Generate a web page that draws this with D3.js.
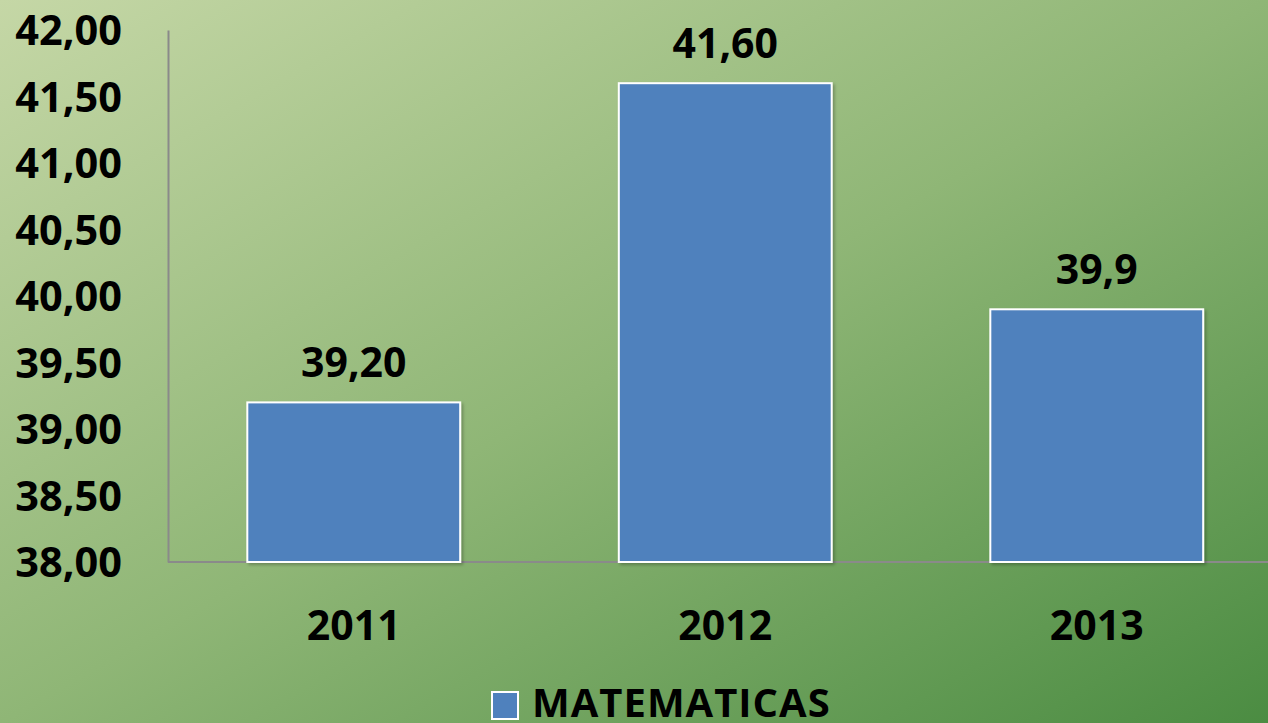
<!DOCTYPE html>
<html><head><meta charset="utf-8">
<script src="https://cdn.jsdelivr.net/npm/d3@7"></script>
<style>html,body{margin:0;padding:0;overflow:hidden;}svg{display:block;}</style>
</head><body>
<svg id="chart" width="1268" height="723"></svg>
<script>
const categories = ["2011", "2012", "2013"];
const values = [39.2, 41.6, 39.9];
const valueLabels = ["39,20", "41,60", "39,9"];
const yTicks = [38, 38.5, 39, 39.5, 40, 40.5, 41, 41.5, 42];
const seriesName = "MATEMATICAS";

const W = 1268, H = 723;
const svg = d3.select("#chart");
const defs = svg.append("defs");
const grad = defs.append("linearGradient").attr("id","bg")
  .attr("x1","0").attr("y1","0").attr("x2","1").attr("y2","1");
grad.append("stop").attr("offset","0%").attr("stop-color","#c5d7a6");
grad.append("stop").attr("offset","50%").attr("stop-color","#8fb676");
grad.append("stop").attr("offset","100%").attr("stop-color","#4b8c42");
const sh = defs.append("filter").attr("id","shadow").attr("x","-10%").attr("y","-10%").attr("width","130%").attr("height","130%");
sh.append("feDropShadow").attr("dx",2).attr("dy",2).attr("stdDeviation",1.5).attr("flood-color","#000").attr("flood-opacity",0.25);

svg.append("rect").attr("width",W).attr("height",H).attr("fill","url(#bg)");

const x0 = 168, yTop = 30, yBase = 562;
const x = d3.scaleBand().domain(categories).range([x0, 1282.5]).paddingInner(0.427).paddingOuter(0.2135);
const y = d3.scaleLinear().domain([38, 42]).range([yBase, yTop]);

const font = "'Open Sans', 'DejaVu Sans', sans-serif";

// baseline + axis
svg.append("line").attr("x1",x0).attr("x2",W).attr("y1",yBase).attr("y2",yBase)
  .attr("stroke","#8a8a8a").attr("stroke-width",2);
const yAxis = d3.axisLeft(y).tickValues(yTicks).tickSize(0).tickPadding(46)
  .tickFormat(d => d3.format(".2f")(d).replace(".", ","));
const gy = svg.append("g").attr("transform",`translate(${x0},0)`).call(yAxis);
gy.select(".domain").attr("stroke","#8a8a8a").attr("stroke-width",2);
gy.selectAll("text").attr("font-family",font).attr("font-weight",700).attr("font-size",41.5).attr("fill","#000").attr("dy","0.36em");

// bars
svg.selectAll("rect.bar").data(values).join("rect").attr("class","bar")
  .attr("x",(d,i)=>x(categories[i])).attr("width",x.bandwidth())
  .attr("y",d=>y(d)).attr("height",d=>yBase-y(d))
  .attr("fill","#4f81bd").attr("stroke","#ffffff").attr("stroke-width",2)
  .attr("filter","url(#shadow)");

// value labels
svg.selectAll("text.vl").data(values).join("text").attr("class","vl")
  .attr("x",(d,i)=>x(categories[i])+x.bandwidth()/2).attr("y",d=>y(d)-25)
  .attr("text-anchor","middle").attr("font-family",font).attr("font-weight",700).attr("font-size",41)
  .text((d,i)=>valueLabels[i]);

// x axis labels
const xAxis = d3.axisBottom(x).tickSize(0).tickPadding(0);
const gx = svg.append("g").attr("transform",`translate(0,${yBase})`).call(xAxis);
gx.select(".domain").remove();
gx.selectAll("text").attr("font-family",font).attr("font-weight",700).attr("font-size",41).attr("fill","#000")
  .attr("dy",null).attr("y",78);

// legend
const lg = svg.append("g");
lg.append("rect").attr("x",492).attr("y",692).attr("width",26).attr("height",27)
  .attr("fill","#4f81bd").attr("stroke","#fff").attr("stroke-width",2);
lg.append("text").attr("x",532).attr("y",717).attr("font-family",font).attr("font-weight",700).attr("font-size",40)
  .attr("letter-spacing","1px").text(seriesName);
</script>
</body></html>
